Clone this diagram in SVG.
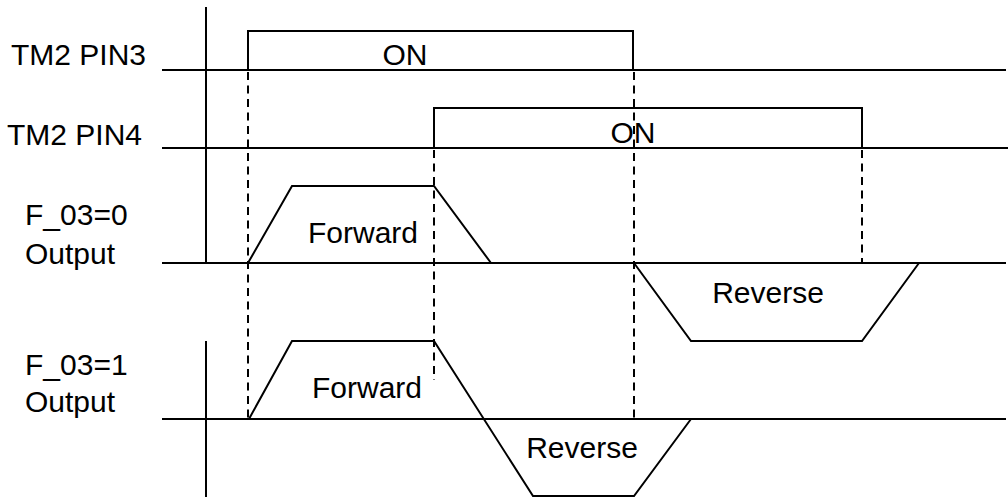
<svg xmlns="http://www.w3.org/2000/svg" width="1008" height="497" viewBox="0 0 1008 497">
<style>
.s{fill:none;stroke:#000;stroke-width:2;stroke-linejoin:miter}
.d{fill:none;stroke:#000;stroke-width:2;stroke-dasharray:8 5.5}
.t{font-family:"Liberation Sans",Arial,sans-serif;font-size:30px;fill:#000}
.m{text-anchor:middle}
</style>
<rect width="1008" height="497" fill="#fff"/>
<g id="labels">
<text class="t" x="11" y="65">TM2 PIN3</text>
<text class="t" x="7" y="145">TM2 PIN4</text>
<text class="t" x="25" y="225">F_03=0</text>
<text class="t" x="25" y="264">Output</text>
<text class="t" x="25" y="375">F_03=1</text>
<text class="t" x="25" y="412">Output</text>
</g>
<g id="axes">
<line class="s" x1="206" y1="7" x2="206" y2="263"/>
<line class="s" x1="206" y1="341" x2="206" y2="497"/>
<line class="s" x1="162" y1="70" x2="1006" y2="70"/>
<line class="s" x1="162" y1="148" x2="1008" y2="148"/>
<line class="s" x1="162" y1="263" x2="1006" y2="263"/>
<line class="s" x1="162" y1="419" x2="1006" y2="419"/>
</g>
<g id="pin3">
<polyline class="s" points="248,70 248,31 633,31 633,70"/>
<text class="t m" x="405" y="65">ON</text>
</g>
<g id="pin4">
<polyline class="s" points="434,148 434,108 862,108 862,148"/>
<text class="t m" x="633" y="143">ON</text>
</g>
<g id="f03_0">
<polyline class="s" points="248,263 292,186 434,186 491,263"/>
<text class="t m" x="363" y="243">Forward</text>
<polyline class="s" points="634,263 691,341 862,341 919,263"/>
<text class="t m" x="768" y="303">Reverse</text>
</g>
<g id="f03_1">
<polyline class="s" points="249,419 292,341 434,341 533,496 634,496 691,419"/>
<text class="t m" x="367" y="398">Forward</text>
<text class="t m" x="582" y="458">Reverse</text>
</g>
<g id="connectors">
<line class="d" x1="248" y1="72" x2="248" y2="419"/>
<line class="d" x1="434" y1="150" x2="434" y2="380"/>
<line class="d" x1="634" y1="72" x2="634" y2="419"/>
<line class="d" x1="862" y1="150" x2="862" y2="263"/>
</g>
</svg>
